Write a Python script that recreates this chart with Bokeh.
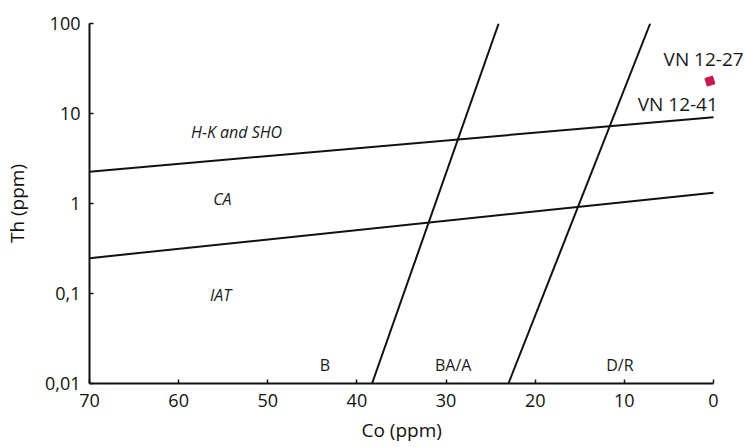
from bokeh.plotting import figure
from bokeh.models import Range1d, FixedTicker, CustomJSTickFormatter, ColumnDataSource, Title
from bokeh.core.properties import value
from bokeh.embed import file_html
from bokeh.resources import INLINE

# ---- data ----
x_ticks = [0, 10, 20, 30, 40, 50, 60, 70]
y_ticks = [0.01, 0.1, 1, 10, 100]

upper_co = [70, 0]
upper_th = [2.26, 9.1]
lower_co = [70, 0]
lower_th = [0.247, 1.32]
ba_co = [38.3, 24.1]
ba_th = [0.01, 100]
dr_co = [23.0, 7.1]
dr_th = [0.01, 100]

sample_co = [0.4]
sample_th = [22.9]

field_names = ["H-K and SHO", "CA", "IAT"]
field_co = [53.5, 55.1, 55.3]
field_th = [6.25, 1.11, 0.096]

rock_names = ["B", "BA/A", "D/R"]
rock_co = [43.6, 29.2, 10.5]
rock_th = [0.0162, 0.0162, 0.0162]

sample_names = ["VN 12-27", "VN 12-41"]
sample_label_co = [5.6, 8.5]
sample_label_th = [40.0, 12.7]

FONT = "Open Sans"
INK = "#111111"

p = figure(width=748, height=447, output_backend="svg", toolbar_location=None,
           y_axis_type="log",
           x_range=Range1d(70, -3.93), y_range=Range1d(0.01, 100),
           min_border_left=89, min_border_right=0, min_border_top=23, min_border_bottom=62)
p.outline_line_color = None
p.xgrid.visible = False
p.ygrid.visible = False
p.background_fill_color = "white"
p.border_fill_color = "white"

for ax in (p.xaxis[0], p.yaxis[0]):
    ax.axis_line_width = 2
    ax.axis_line_color = INK
    ax.major_tick_in = 4
    ax.major_tick_out = 0
    ax.major_tick_line_color = INK
    ax.major_tick_line_width = 1.5
    ax.minor_tick_line_color = None
    ax.major_label_text_font = FONT
    ax.major_label_text_font_size = "18px"
    ax.major_label_text_color = INK
    ax.axis_label_text_font = FONT
    ax.axis_label_text_font_size = "19px"
    ax.axis_label_text_font_style = "normal"
    ax.axis_label_text_color = INK

p.xaxis.bounds = (0, 70)
p.xaxis.ticker = FixedTicker(ticks=x_ticks)
p.yaxis.ticker = FixedTicker(ticks=y_ticks)
p.yaxis.formatter = CustomJSTickFormatter(code="return (Math.round(tick*100)/100).toString().replace('.', ',');")
p.yaxis.axis_label = "Th (ppm)"
p.xaxis.major_label_standoff = 10
p.yaxis.major_label_standoff = 9
p.yaxis.axis_label_standoff = 12

p.add_layout(Title(text="Co (ppm)", align="left", offset=272, text_font=FONT,
                   text_font_size="19px", text_font_style="normal", text_color=INK), "below")

for xs, ys in ((upper_co, upper_th), (lower_co, lower_th), (ba_co, ba_th), (dr_co, dr_th)):
    p.line(xs, ys, line_color=INK, line_width=2)

p.scatter(sample_co, sample_th, marker="square", size=8, fill_color="#c8174d",
          line_color="#c8174d", angle=0.3)

fsrc = ColumnDataSource(dict(x=field_co, y=field_th, t=field_names))
p.text("x", "y", text="t", source=fsrc, text_font=value(FONT), text_font_size="16px",
       text_font_style="italic", text_align="center", text_baseline="middle", text_color="#1a1a1a")

rsrc = ColumnDataSource(dict(x=rock_co, y=rock_th, t=rock_names))
p.text("x", "y", text="t", source=rsrc, text_font=value(FONT), text_font_size="16px",
       text_align="center", text_baseline="middle", text_color="#1a1a1a")

ssrc = ColumnDataSource(dict(x=sample_label_co, y=sample_label_th, t=sample_names))
p.text("x", "y", text="t", source=ssrc, text_font=value(FONT), text_font_size="19px",
       text_align="left", text_baseline="middle", text_color="#1a1a1a")

open("out.html", "w").write(file_html(p, INLINE))
